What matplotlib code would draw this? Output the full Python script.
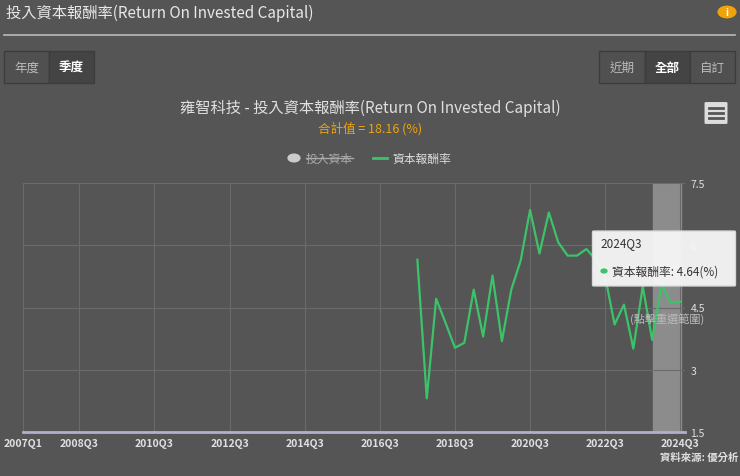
import matplotlib.pyplot as plt
from matplotlib.patches import FancyBboxPatch, Rectangle

plt.rcParams['font.family'] = ['Noto Sans CJK TC', 'DejaVu Sans']

# quarterly ROIC, 2017Q3 .. 2024Q3
start_idx = 42  # quarters since 2007Q1
roic = [5.65, 2.31, 4.71, 4.13, 3.53, 3.65, 4.93, 3.80, 5.27, 3.69,
        4.93, 5.63, 6.85, 5.80, 6.79, 6.07, 5.75, 5.75, 5.91, 5.65,
        5.25, 4.09, 4.57, 3.51, 5.01, 3.72, 5.05, 4.61, 4.64]
tick_idx = [0, 6, 14, 22, 30, 38, 46, 54, 62, 70]
tick_labels = ['2007Q1', '2008Q3', '2010Q3', '2012Q3', '2014Q3', '2016Q3',
               '2018Q3', '2020Q3', '2022Q3', '2024Q3']
y_ticks = [1.5, 3, 4.5, 6, 7.5]

bg = '#555555'
fig = plt.figure(figsize=(7.4, 4.77), dpi=100, facecolor=bg)
W, H = 740, 477


def fx(px):
    return px / W


def fy(py):
    return 1 - py / H


# header
fig.text(fx(6), fy(13), '投入資本報酬率(Return On Invested Capital)', color='#e8e8e8',
         fontsize=11, va='center')
fig.add_artist(plt.Line2D([fx(4), fx(735)], [fy(36), fy(36)], color='#bbbbbb', lw=1.2))
fig.add_artist(plt.Circle((fx(727), fy(13)), 0.012, color='#f0a30a', transform=fig.transFigure))
fig.text(fx(727), fy(13), 'i', color='white', fontsize=7, ha='center', va='center', weight='bold')

# buttons
def button(x0, w, label, active):
    fig.add_artist(Rectangle((fx(x0), fy(84)), fx(w), 32 / H, transform=fig.transFigure,
                             facecolor='#444444' if active else '#505050',
                             edgecolor='#3c3c3c', lw=1))
    fig.text(fx(x0 + w / 2), fy(68), label, color='white' if active else '#bbbbbb',
             fontsize=9, ha='center', va='center', weight='bold' if active else 'normal')

button(4, 45, '年度', False)
button(49, 45, '季度', True)
button(599, 46, '近期', False)
button(645, 45, '全部', True)
button(690, 45, '自訂', False)

# titles
fig.text(fx(370), fy(108), '雍智科技 - 投入資本報酬率(Return On Invested Capital)', color='#e0e0e0',
         fontsize=11, ha='center', va='center')
fig.text(fx(370), fy(129), '合計值 = 18.16 (%)', color='#f0a30a', fontsize=9,
         ha='center', va='center')
fig.add_artist(FancyBboxPatch((fx(706), fy(124)), fx(20), 20 / H, boxstyle='round,pad=0.002',
                              transform=fig.transFigure, facecolor='#dddddd', edgecolor='none'))
for yy in (109, 114, 119):
    fig.add_artist(plt.Line2D([fx(709), fx(723)], [fy(yy), fy(yy)], color='#555555', lw=2))

# legend
fig.add_artist(plt.Circle((fx(294), fy(159)), 0.008, color='#cccccc', transform=fig.transFigure))
fig.text(fx(306), fy(159), '投入資本', color='#aaaaaa', fontsize=8.5, va='center')
fig.add_artist(plt.Line2D([fx(306), fx(353)], [fy(159), fy(159)], color='#aaaaaa', lw=1))
fig.add_artist(plt.Line2D([fx(373), fx(387)], [fy(159), fy(159)], color='#3cc36a', lw=2))
fig.text(fx(392), fy(159), '資本報酬率', color='#dddddd', fontsize=8.5, va='center')

# plot
ax = fig.add_axes([fx(23), fy(433), fx(662), 249 / H])
ax.set_facecolor(bg)
x = list(range(start_idx, start_idx + len(roic)))
ax.axvspan(67.1, 70.1, color='#8c8c8c', zorder=1)
ax.plot(x, roic, color='#3cc36a', lw=1.6, zorder=3)
ax.set_xlim(0, 70.5)
ax.set_ylim(1.5, 7.5)
ax.set_xticks(tick_idx)
ax.set_xticklabels(tick_labels, color='#e0e0e0', fontsize=7.5, weight='bold')
ax.get_xticklabels()[0].set_x(0.8)
ax.set_yticks(y_ticks)
ax.set_yticklabels(['1.5', '3', '4.5', '6', '7.5'], color='#e0e0e0', fontsize=7.5)
ax.yaxis.tick_right()
ax.tick_params(length=0, pad=4)
ax.grid(True, color='#6a6a6a', lw=0.8, zorder=0)
for s in ['top', 'left', 'right']:
    ax.spines[s].set_visible(False)
ax.spines['bottom'].set_color('#b0b0cc')
ax.spines['bottom'].set_linewidth(2)

ax.text(68.6, 4.25, '(點擊重選範圍)', color='#bbbbbb', fontsize=8, ha='center', va='center', zorder=4)

# tooltip
fig.add_artist(FancyBboxPatch((fx(594), fy(286)), fx(140), 53 / H, boxstyle='round,pad=0.002',
                              transform=fig.transFigure, facecolor='#f7f7f7', edgecolor='#dddddd',
                              alpha=0.95, zorder=10))
fig.text(fx(600), fy(244), '2024Q3', color='#333333', fontsize=8.5, va='center', zorder=11)
fig.add_artist(plt.Circle((fx(604), fy(272)), 0.004, color='#3cc36a', transform=fig.transFigure, zorder=11))
fig.text(fx(612), fy(272), '資本報酬率: 4.64(%)', color='#333333', fontsize=8.5, va='center', zorder=11)

fig.text(fx(738), fy(458), '資料來源: 優分析', color='#e0e0e0', fontsize=7.5, ha='right',
         va='center', weight='bold')

fig.savefig('out.png', dpi=100, facecolor=bg)
